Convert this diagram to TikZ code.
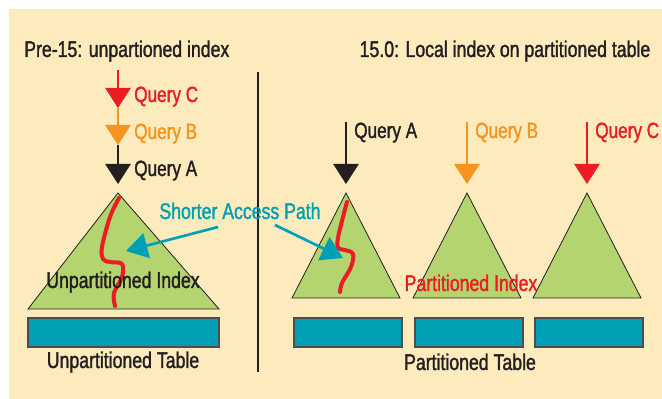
\documentclass[tikz,border=0pt]{standalone}
\usepackage{fontspec}
\setmainfont{Liberation Sans}[FakeStretch=0.78, FakeBold=1.4]
\usepackage{xcolor}
\usetikzlibrary{arrows.meta,positioning}

\definecolor{paper}{HTML}{FDEBBE}
\definecolor{leaf}{HTML}{B3D46F}
\definecolor{sea}{HTML}{00A0B4}
\definecolor{qred}{HTML}{ED1C24}
\definecolor{qorange}{HTML}{F7941D}
\definecolor{ink}{HTML}{231F20}

\begin{document}
\begin{tikzpicture}[
x=0.75pt, y=-0.75pt,
label/.style={inner sep=0pt, font=\fontsize{17}{19}\selectfont, text=ink},
qlabel/.style={inner sep=0pt, font=\fontsize{16.5}{19}\selectfont, text=ink, anchor=base west},
heading/.style={inner sep=0pt, font=\fontsize{17}{19}\selectfont, text=ink},
query/.style={-{Triangle[length=15pt,width=19pt]}, line width=1.3pt},
index/.style={draw=ink, line width=0.6pt, fill=leaf},
table/.style={draw=ink!80, line width=0.8pt, fill=sea},
path/.style={draw=qred, line width=3pt, line cap=round, line join=round},
hint/.style={-{Triangle[length=16pt,width=19pt]}, draw=sea, line width=2pt}
]
% background
\useasboundingbox (0,0) rectangle (662,399);
\fill[paper] (9,9) rectangle (662,399);
\draw[ink, line width=1.5pt] (258,72) -- (258,372);

% headings
\node[heading, anchor=base west] (preTitle) at (24,57) {Pre-15: unpartioned index};
\node[heading, anchor=base] (newTitle) at (505,57) {15.0: Local index on partitioned table};

% left: one unpartitioned index
\coordinate (cTop) at (118,70);
\coordinate (cTip) at (118,108);
\coordinate (bTip) at (118,145);
\coordinate (aTip) at (118,184);
\draw[query, qred] (cTop) -- (cTip);
\draw[query, qorange] (cTip) -- (bTip);
\draw[query, ink] (bTip) -- (aTip);
\node[qlabel, text=qred] (qC) at (134,102) {Query C};
\node[qlabel, text=qorange] (qB) at (134,139) {Query B};
\node[qlabel] (qA) at (134,176) {Query A};

\filldraw[index] (118,193) -- (219,309) -- (28,309) -- cycle;
\draw[path] plot[smooth, tension=0.6] coordinates {(119,198) (110,217) (102,247) (103,259) (110,262) (122,264) (122,277) (114,293) (115,306)};
\node[label, anchor=base] (uIndex) at (123,288) {Unpartitioned Index};
\filldraw[table] (28,318) rectangle (219,347);
\node[label, anchor=base] (uTable) at (123,368) {Unpartitioned Table};

% right: local index per partition
\foreach \px/\qcol/\qname [count=\i] in {346/ink/A, 467/qorange/B, 587/qred/C} {
  \coordinate (top\i) at (\px,122);
  \coordinate (tip\i) at (\px,184);
  \draw[query, \qcol] (top\i) -- (tip\i);
  \node[qlabel, text=\qcol] (pq\i) at (\px+8,138) {Query \qname};
  \filldraw[index] (\px,193) -- (\px+54,298) -- (\px-54,298) -- cycle;
  \filldraw[table] (\px-52,318) rectangle (\px+56,347);
}
\draw[path] plot[smooth, tension=0.6] coordinates {(347,202) (343,217) (338,238) (338,248) (345,250) (353,254) (351,267) (342,283) (340,292)};
\node[label, anchor=base, text=qred] (pIndex) at (471,291) {Partitioned Index};
\node[label, anchor=base] (pTable) at (470,370) {Partitioned Table};

% shorter access path
\node[label, anchor=base, text=sea] (sap) at (240,219) {Shorter Access Path};
\coordinate (hintL) at (126,251);
\coordinate (hintR) at (343,258);
\draw[hint] (218,227) -- (hintL);
\draw[hint] (275,225) -- (hintR);
\end{tikzpicture}
\end{document}
